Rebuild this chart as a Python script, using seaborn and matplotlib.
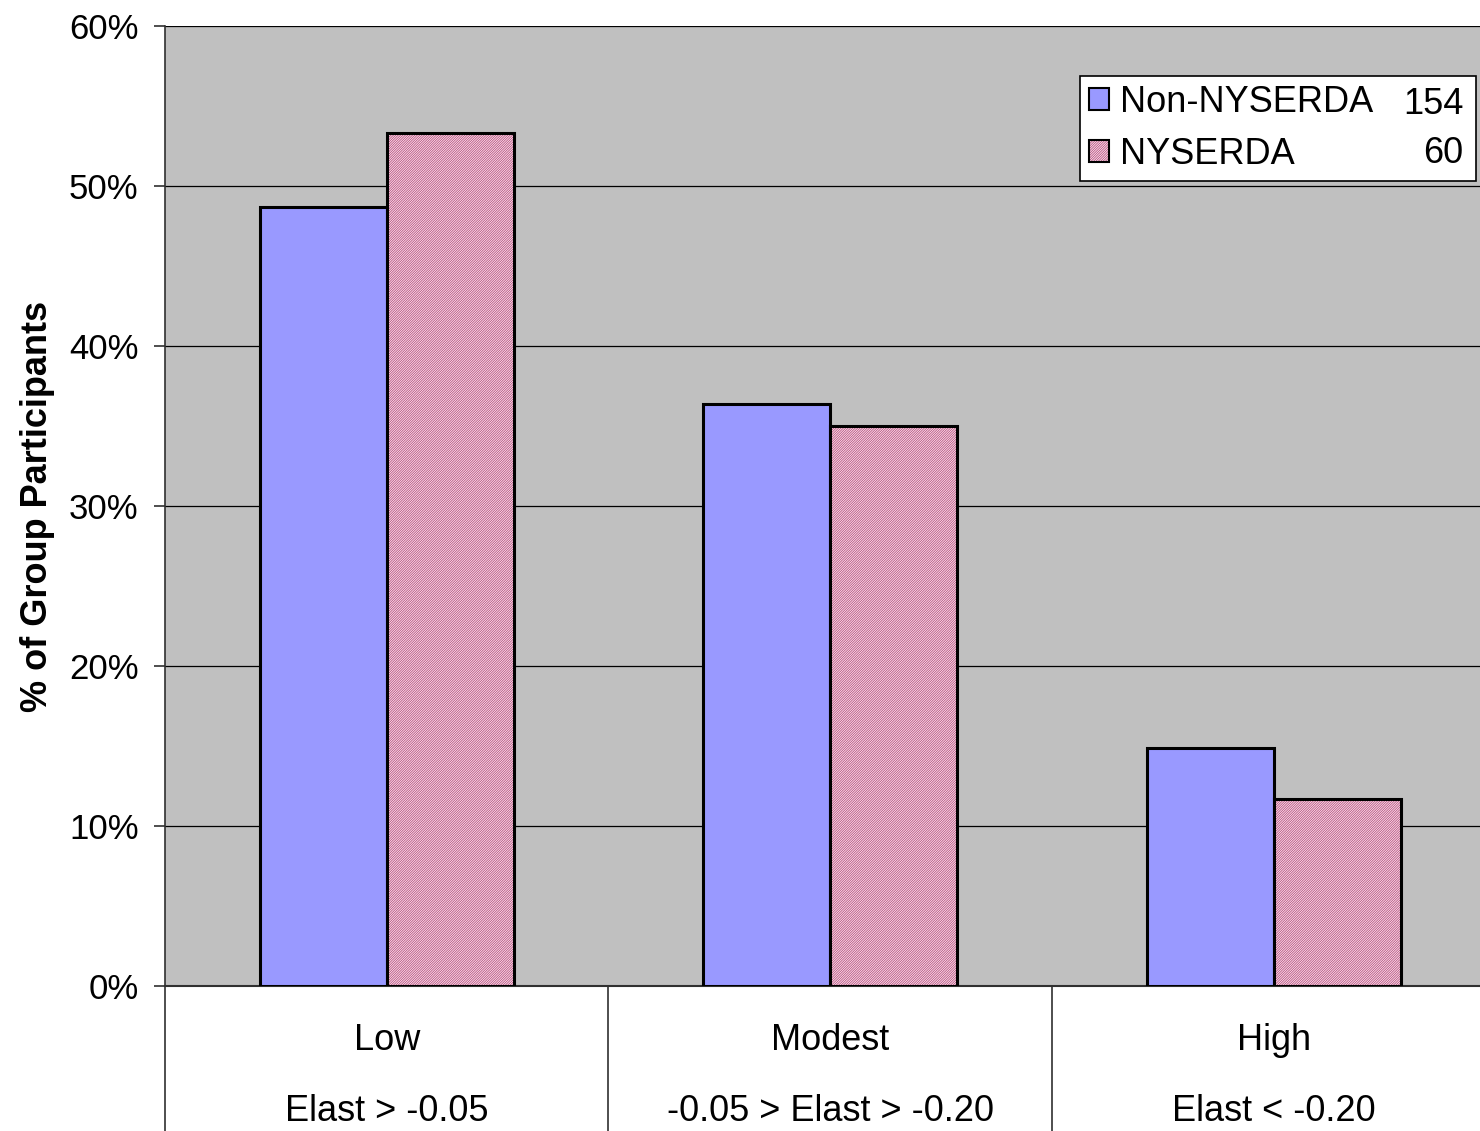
import matplotlib
matplotlib.use("Agg")
import matplotlib.pyplot as plt
import matplotlib.transforms as mtransforms
import matplotlib.colors as mcolors
import numpy as np
import pandas as pd
import seaborn as sns

# Elasticity groups and share of participants in each (percent)
categories = ["Low", "Modest", "High"]
ranges = ["Elast > -0.05", "-0.05 > Elast > -0.20", "Elast < -0.20"]
groups = ["Non-NYSERDA", "NYSERDA"]
group_counts = [154, 60]
non_nyserda = [48.7, 36.4, 14.9]
nyserda = [53.3, 35.0, 11.7]

df = pd.DataFrame({
    "category": categories * 2,
    "group": [groups[0]] * 3 + [groups[1]] * 3,
    "pct": non_nyserda + nyserda,
})

sns.set_theme(style="white")
plt.rcParams["font.family"] = ["Liberation Sans", "DejaVu Sans"]
plt.rcParams["text.color"] = "black"
plt.rcParams["axes.labelcolor"] = "black"
plt.rcParams["xtick.color"] = "black"
plt.rcParams["ytick.color"] = "black"
plt.rcParams["hatch.linewidth"] = 0.6

HATCH_COLOR = "#b8507f"


def pink_hatch(patch):
    """Fine diagonal hatching in a rose colour, keeping the black outline."""
    patch.set_hatch("/" * 14)
    if hasattr(patch, "set_hatchcolor"):
        patch.set_hatchcolor(HATCH_COLOR)
    else:
        patch._hatch_color = mcolors.to_rgba(HATCH_COLOR)


fig = plt.figure(figsize=(14.8, 11.31), dpi=100)
ax = fig.add_axes([165 / 1480, 1 - 986 / 1131, 1330.5 / 1480, 960 / 1131])
ax.set_facecolor("#c0c0c0")

sns.barplot(data=df, x="category", y="pct", hue="group", order=categories,
            hue_order=groups, palette=["#9999ff", "#fde8f1"], saturation=1,
            width=0.573, gap=0, edgecolor="black", linewidth=2.2, ax=ax,
            zorder=3)

for bar in ax.containers[1]:
    pink_hatch(bar)

ax.set_xlim(-0.5, 2.5)
ax.set_ylim(0, 60)
ax.set_yticks(np.arange(0, 61, 10))
ax.set_yticklabels([f"{v}%" for v in range(0, 61, 10)])
ax.yaxis.grid(True, color="black", linewidth=0.9, zorder=0)
ax.set_axisbelow(True)

for side in ["top", "right"]:
    ax.spines[side].set_visible(False)
ax.spines["left"].set_color("#303030")
ax.spines["left"].set_linewidth(1.2)
ax.spines["bottom"].set_color("#303030")
ax.spines["bottom"].set_linewidth(1.5)

ax.tick_params(axis="y", which="major", direction="out", length=8, width=1.2,
               color="#303030", left=True, pad=11, labelsize=25)
ax.tick_params(axis="x", which="major", length=0, pad=27, labelsize=26)

ax.set_xticks(range(len(categories)))
ax.set_xticklabels([f"{c}\n{r}" for c, r in zip(categories, ranges)],
                   linespacing=2.3)
ax.set_xlabel("")
ax.set_ylabel("% of Group Participants", fontsize=26, fontweight="bold")
ax.yaxis.set_label_coords(-0.083, 0.5)

# Category separators below the axis
trans = mtransforms.blended_transform_factory(ax.transData, ax.transAxes)
for xb in [-0.5, 0.5, 1.5, 2.5]:
    ax.plot([xb, xb], [0, -0.16], color="#303030", linewidth=1.2,
            transform=trans, clip_on=False)

# Legend with group sizes
handles = [ax.containers[0][0], ax.containers[1][0]]
if ax.get_legend() is not None:
    ax.get_legend().remove()
leg = ax.legend(handles, groups, loc="upper left",
                bbox_to_anchor=(0.6877, 0.844, 0.2976, 0.104), mode="expand",
                borderaxespad=0, fontsize=26, frameon=True, fancybox=False,
                handlelength=0.55, handleheight=0.55, handletextpad=0.3,
                borderpad=0.25, labelspacing=0.47)
leg.get_frame().set_edgecolor("black")
leg.get_frame().set_linewidth(1.2)
leg.get_frame().set_facecolor("white")
leg.get_frame().set_alpha(1)
leg.set_zorder(5)
for lh in leg.legend_handles:
    lh.set_linewidth(1.5)
pink_hatch(leg.legend_handles[1])

for n, yy in zip(group_counts, [0.9083, 0.8573]):
    ax.text(0.976, yy, str(n), transform=ax.transAxes, ha="right",
            va="baseline", fontsize=26, zorder=6)

fig.savefig("out.png", dpi=100)
